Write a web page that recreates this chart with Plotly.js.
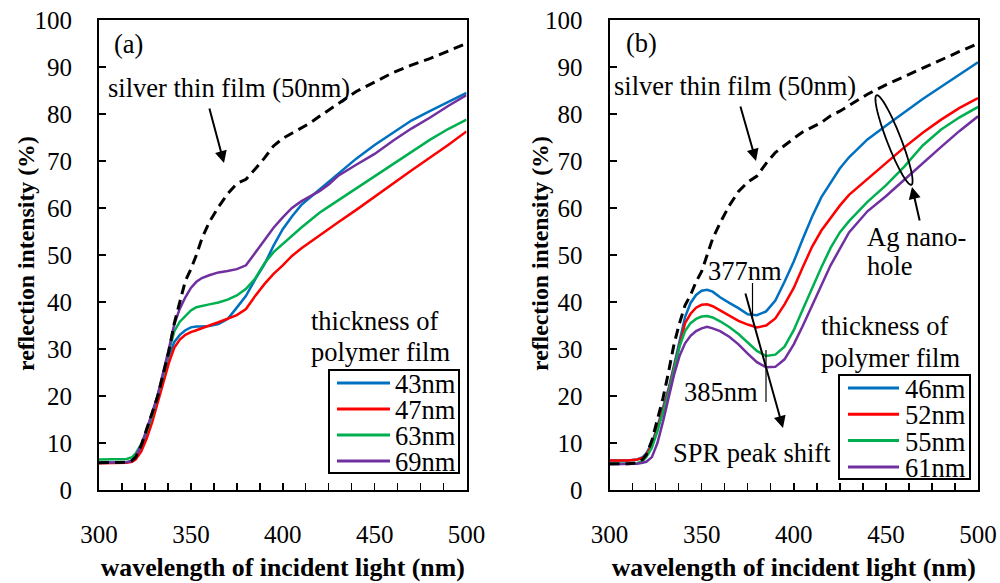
<!DOCTYPE html>
<html><head><meta charset="utf-8">
<script src="https://cdn.plot.ly/plotly-3.0.1.min.js"></script>
<style>html,body{margin:0;padding:0;background:#fff}</style>
</head><body><div id="chart" style="width:1000px;height:583px"></div>
<script>
// ---------- data ----------
const wavelength = [300,305,310,315,318,320,323,326,329,332,335,338,341,344,347,350,353,356,360,365,370,375,380,385,390,395,400,405,410,415,420,425,430,440,450,460,470,480,490,500];

// panel (a)
const silverA = [5.8,5.8,5.8,5.9,6.3, 7.0,9.5,12.8,16.5,20, 24.5,29.5,35.5,40,44.5, 47,50,53.5,57,60.2, 63,65.2,66.1,68.3,70.6, 73.2,74.8,75.9,77,78.1, 79.5,80.8,82.2,84.8,86.8, 88.8,90.4,91.8,93.4,95];
const a43 = [5.8,5.8,5.8,5.9,6.2, 7,9,12,15.5,19.5, 24,28.5,31.5,33,34, 34.6,34.8,34.8,34.9,35.3, 36.4,38.8,41.3,44.8,48, 52,55.5,58.2,60.6,62.3, 63.9,65.7,67.3,70.5,73.4, 76,78.6,80.6,82.6,84.5];
const a47 = [5.7,5.7,5.7,5.8,6, 6.5,8.2,11,14.5,18.5, 22.5,27,30.3,32,33, 33.6,34,34.5,35,35.7, 36.4,37.2,38.5,41.3,43.8, 46,47.8,49.8,51.4,52.8, 54.2,55.6,56.9,59.6,62.4, 65.3,68,70.7,73.4,76.3];
const a63 = [6.5,6.5,6.5,6.6,7, 7.8,9.8,12.5,16,20, 24.5,29.5,33.8,35.8,37, 38.2,38.9,39.2,39.5,39.9, 40.5,41.4,42.8,45,48.2, 50.6,52.4,54.2,55.8,57.4, 59,60.3,61.6,64.2,66.8, 69.3,72,74.5,76.8,78.8];
const a69 = [5.8,5.8,5.8,5.9,6.2, 7.2,9.5,12.8,16.5,20.3, 25,30,35.3,38.6,41, 43,44.3,45.1,45.7,46.3, 46.6,47,47.8,50.5,53, 55.8,58,60,61.4,62.5, 63.6,65,66.8,69.2,71.5, 74.3,76.9,79.2,81.7,84];

// panel (b)
const silverB = [5.6,5.6,5.6,5.8,6.5, 7.5,10.5,15,19.5,25, 31,35.5,39.3,41.5,44.3, 46.5,50,53.5,56.8,60.5, 63.5,65.5,66.8,69.5,71.8, 73.4,74.8,76.2,77.2,78.2, 79.6,80.6,81.8,84.2,86.2, 88,89.8,91.6,93.3,95];
const b46 = [6.3,6.3,6.3,6.5,7, 7.8,10,13.5,17.5,21.5, 26.5,32,36.8,39.8,41.5, 42.4,42.6,42.2,41,39.8, 38.7,37.4,37.2,38,40.3, 44.3,48.6,53.5,58.2,62.3, 65.5,68.4,70.8,74.6,77.5, 80.3,83.2,85.8,88.4,91];
const b52 = [6.3,6.3,6.3,6.5,6.8, 7.5,9.5,13,17,21, 26,31,35.5,37.5,38.8, 39.4,39.5,39.1,38.2,37, 36,35.2,34.6,35,36.5, 39.5,43,47.5,51.8,55.2, 57.8,60.5,62.8,66.2,69.6, 72.9,76,78.8,81.3,83.4];
const b55 = [5.6,5.6,5.6,5.7,6.2, 7,9,12.5,16.5,20.5, 25.5,30.5,33.8,35.5,36.4, 36.9,37,36.7,35.9,34.7, 33.2,31.5,29.6,28.5,28.8, 30.5,34,38.5,43,47.4, 51.5,54.8,57.2,61.3,64.8, 68.8,73.3,76.7,79.3,81.5];
const b61 = [5.5,5.5,5.5,5.6,5.8, 6,7,10,14.5,19.5, 24.5,28.5,31.2,32.8,33.8, 34.4,34.7,34.4,33.8,32.6, 31,29,27.2,26.1,26.2, 27.8,31,35,39.3,43.8, 47.8,51.3,54.8,59.3,62.5, 66,69.6,73,76.4,79.5];

const namesA = ['43nm','47nm','63nm','69nm'];
const namesB = ['46nm','52nm','55nm','61nm'];
const seriesA = [a43,a47,a63,a69];
const seriesB = [b46,b52,b55,b61];
const colors = ['#0070C0','#FF0000','#00B050','#7030A0'];
const xTickVals = [300,350,400,450,500];

// ---------- helpers (pixel -> paper of plot area) ----------
const L=99, T=20, W=879, H=470;
const px = x => (x-L)/W;
const py = y => (T+H-y)/H;
const FONT = 'Liberation Serif, Times New Roman, serif';
const TXT = 26.5;

const traces = [];
seriesA.forEach((s,i)=>traces.push({x:wavelength,y:s,type:'scatter',mode:'lines',name:namesA[i],
  line:{color:colors[i],width:2.5},xaxis:'x',yaxis:'y',showlegend:false}));
traces.push({x:wavelength,y:silverA,type:'scatter',mode:'lines',name:'silver thin film (50nm)',
  line:{color:'#000',width:3,dash:'10px,6px'},xaxis:'x',yaxis:'y',showlegend:false});
seriesB.forEach((s,i)=>traces.push({x:wavelength,y:s,type:'scatter',mode:'lines',name:namesB[i],
  line:{color:colors[i],width:2.5},xaxis:'x2',yaxis:'y2',showlegend:false}));
traces.push({x:wavelength,y:silverB,type:'scatter',mode:'lines',name:'silver thin film (50nm)',
  line:{color:'#000',width:3,dash:'10px,6px'},xaxis:'x2',yaxis:'y2',showlegend:false});

const tickFont = {family:FONT,size:25,color:'#000'};
function xax(domain, anchor){
  return {domain, anchor, range:[300,500], tickvals:xTickVals, ticks:'inside', ticklen:7, tickwidth:1.5, tickcolor:'#000',
    minor:{dtick:12.5, tick0:300, ticks:'inside', ticklen:7, tickwidth:1.5, tickcolor:'#000'},
    showline:true, mirror:true, linecolor:'#000', linewidth:2, showgrid:false, zeroline:false,
    tickfont:tickFont, ticklabelstandoff:21,
    title:{text:'wavelength of incident light (nm)', font:{family:FONT,size:25.8,color:'#000',weight:'bold'}, standoff:11}};
}
function yax(anchor){
  return {domain:[0,1], anchor, range:[0,100], dtick:10, ticks:'inside', ticklen:7, tickwidth:1.5, tickcolor:'#000',
    showline:true, mirror:true, linecolor:'#000', linewidth:2, showgrid:false, zeroline:false,
    tickfont:tickFont, ticklabelstandoff:20};
}

const annotations = [];
const shapes = [];
function txt(t,x,y,xanchor='center',yanchor='middle',h){
  const a = {text:t,x:px(x),y:py(y),xref:'paper',yref:'paper',xanchor,yanchor,showarrow:false,font:{family:FONT,size:TXT,color:'#000'}};
  if(h) { a.height = h; a.valign = 'middle'; }
  annotations.push(a);
}
function ytitle(x,y){
  annotations.push({text:'reflection intensity (%)',x:px(x),y:py(y),xref:'paper',yref:'paper',xanchor:'center',yanchor:'middle',
    textangle:-90,showarrow:false,font:{family:FONT,size:23.8,color:'#000',weight:'bold'}});
}
function arrow(hx,hy,tx,ty){
  annotations.push({text:'',x:px(hx),y:py(hy),xref:'paper',yref:'paper',ax:tx-hx,ay:ty-hy,showarrow:true,
    arrowhead:2,arrowsize:1.2,arrowwidth:2,arrowcolor:'#000'});
}
function vline(x,y0,y1){
  shapes.push({type:'line',xref:'paper',yref:'paper',x0:px(x),x1:px(x),y0:py(y0),y1:py(y1),line:{color:'#000',width:1.2}});
}
function legendBox(names,x0,x1,y0,y1,lx0,lx1,tx,ry0,gap){
  shapes.push({type:'rect',xref:'paper',yref:'paper',x0:px(x0),x1:px(x1),y0:py(y0),y1:py(y1),line:{color:'#000',width:2},fillcolor:'#fff'});
  names.forEach((n,i)=>{
    const yy = ry0+i*gap;
    shapes.push({type:'line',xref:'paper',yref:'paper',x0:px(lx0),x1:px(lx1),y0:py(yy),y1:py(yy),line:{color:colors[i],width:3}});
    txt(n,tx,yy+1,'left','middle',24);
  });
}

// axis titles (y)
ytitle(26,254);
ytitle(540,254);

// panel (a) texts
txt('(a)',128,44);
txt('silver thin film (50nm)',228.5,88);
arrow(224,163,209,107);
txt('thickness of',309,321,'left');
txt('polymer film',309,352,'left');
legendBox(namesA,329,459,370,473,337,390,393,383,26);

// panel (b) texts
txt('(b)',641,43);
txt('silver thin film (50nm)',735,86);
arrow(756,161,740,105);
txt('377nm',745,271);
vline(752.5,283,318);
txt('385nm',721,392);
vline(766,350,402);
arrow(783,428,745,292);
txt('SPR peak shift',752,453);
txt('thickness of',819,326,'left');
txt('polymer film',819,358,'left');
legendBox(namesB,839,970,375,479,848,899,903,388,26.3);
txt('Ag nano-',865,237,'left');
txt('hole',865,266,'left');
arrow(912,187,920,222);
// tilted ellipse around the nano-hole curves
(function(){
  const cx=894, cy=140, ang=Math.atan2(90,35), a=48, b=7;
  let d='';
  for(let k=0;k<=60;k++){
    const t=2*Math.PI*k/60;
    const ex=a*Math.cos(t), ey=b*Math.sin(t);
    const X=cx+ex*Math.cos(ang)-ey*Math.sin(ang);
    const Y=cy+ex*Math.sin(ang)+ey*Math.cos(ang);
    d += (k===0?'M':'L')+px(X).toFixed(5)+','+py(Y).toFixed(5);
  }
  d+='Z';
  shapes.push({type:'path',xref:'paper',yref:'paper',path:d,line:{color:'#000',width:1.8}});
})();

const layout = {
  width:1000, height:583, paper_bgcolor:'#fff', plot_bgcolor:'#fff',
  margin:{l:L,r:1000-L-W,t:T,b:583-T-H,pad:0},
  showlegend:false,
  xaxis:xax([0,px(466.5)],'y'),
  yaxis:yax('x'),
  xaxis2:xax([px(609.5),1],'y2'),
  yaxis2:yax('x2'),
  annotations, shapes
};
Plotly.newPlot('chart',traces,layout,{displayModeBar:false,staticPlot:true});
</script></body></html>
